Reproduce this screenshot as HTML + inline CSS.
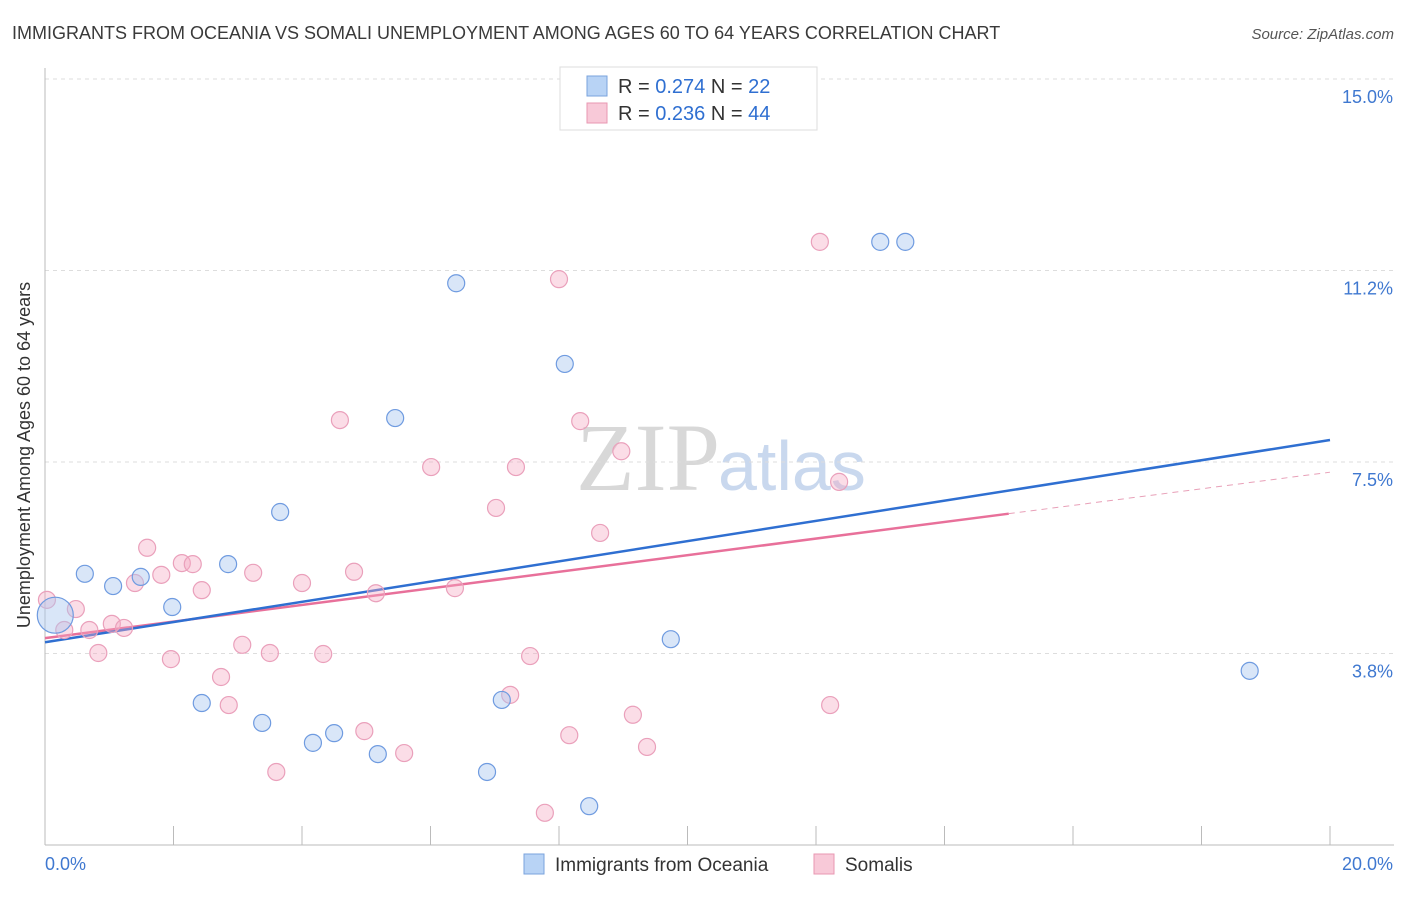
<!DOCTYPE html>
<html><head><meta charset="utf-8"><style>
body{margin:0;background:#fff;font-family:"Liberation Sans",sans-serif}
</style></head><body>
<svg id="c" width="1406" height="892" xmlns="http://www.w3.org/2000/svg" font-family="Liberation Sans, sans-serif">
<text x="12" y="39" font-size="18" fill="#3a3a3a">IMMIGRANTS FROM OCEANIA VS SOMALI UNEMPLOYMENT AMONG AGES 60 TO 64 YEARS CORRELATION CHART</text>
<text x="1394" y="39" font-size="15" fill="#555" text-anchor="end" font-style="italic">Source: ZipAtlas.com</text>
<text x="720" y="490" font-size="96" font-family="Liberation Serif, serif" fill="#d8d8d8" text-anchor="end">ZIP</text>
<text x="718" y="490" font-size="70" fill="#c9d8ee">atlas</text>
<g id="grid"></g><g id="axes"></g><g id="trend"></g><g id="pts"></g>
<text x="30" y="455" font-size="18" fill="#333" text-anchor="middle" transform="rotate(-90 30 455)">Unemployment Among Ages 60 to 64 years</text>
<g>
<rect x="560" y="67" width="257" height="63" fill="#fff" stroke="#ddd"/>
<rect x="587" y="76" width="20" height="20" fill="#b8d3f5" stroke="#7aa3dd"/>
<rect x="587" y="103" width="20" height="20" fill="#f8c9d8" stroke="#e897b2"/>
<text x="618" y="93" font-size="20" fill="#333">R = <tspan fill="#2f6fd1">0.274</tspan>   N = <tspan fill="#2f6fd1">22</tspan></text>
<text x="618" y="120" font-size="20" fill="#333">R = <tspan fill="#2f6fd1">0.236</tspan>   N = <tspan fill="#2f6fd1">44</tspan></text>
</g>
<g>
<rect x="524" y="854" width="20" height="20" fill="#b8d3f5" stroke="#7aa3dd"/>
<text x="555" y="871" font-size="19" fill="#333">Immigrants from Oceania</text>
<rect x="814" y="854" width="20" height="20" fill="#f8c9d8" stroke="#e897b2"/>
<text x="845" y="871" font-size="19" fill="#333">Somalis</text>
</g>
</svg>
<script>
const blueX=[0.16,0.62,1.06,1.49,1.98,2.44,2.85,3.38,3.66,4.17,4.50,5.18,5.45,6.40,6.88,7.11,8.09,8.47,9.74,13.00,13.39,18.75];
const blueY=[4.50,5.31,5.07,5.25,4.66,2.78,5.50,2.39,6.52,2.00,2.19,1.78,8.36,11.00,1.43,2.84,9.42,0.76,4.03,11.81,11.81,3.41];
const pinkX=[0.03,0.30,0.48,0.69,0.83,1.04,1.23,1.40,1.59,1.81,1.96,2.13,2.30,2.44,2.74,2.86,3.07,3.24,3.50,3.60,4.00,4.33,4.59,4.81,4.97,5.15,5.59,6.01,6.38,7.02,7.24,7.33,7.55,7.78,8.00,8.16,8.33,8.64,8.97,9.15,9.37,12.06,12.22,12.36];
const pinkY=[4.80,4.21,4.62,4.21,3.76,4.33,4.25,5.13,5.82,5.29,3.64,5.52,5.50,4.99,3.29,2.74,3.92,5.33,3.76,1.43,5.13,3.74,8.32,5.35,2.23,4.93,1.80,7.40,5.03,6.60,2.94,7.40,3.70,0.63,11.08,2.15,8.30,6.11,7.71,2.55,1.92,11.81,2.74,7.11];
const blueTrend=[3.97,7.93];
const pinkTrend=[4.05,7.30];
const yTicks=[3.75,7.5,11.25,15];
const yTickLabels=["3.8%","7.5%","11.2%","15.0%"];
const xTicks=[0,2,4,6,8,10,12,14,16,18,20];
const NS="http://www.w3.org/2000/svg";
const sx=v=>45+v*64.25, sy=v=>845-v*51.07;
function mk(tag,at,parent){const e=document.createElementNS(NS,tag);for(const k in at)e.setAttribute(k,at[k]);document.getElementById(parent).appendChild(e);return e;}
yTicks.forEach((t,i)=>{
 let l=mk('line',{x1:45,x2:1394,y1:sy(t),y2:sy(t),stroke:'#ddd','stroke-dasharray':'4 4'},'grid');
 
 
 let tx=mk('text',{x:1393,y:sy(t)+24,'font-size':18,fill:'#3f78d0','text-anchor':'end'},'grid');tx.textContent=yTickLabels[i];
 
 
});
let ax=mk('line',{x1:45,x2:45,y1:68,y2:845,stroke:'#bbb'},'axes');


let bx=mk('line',{x1:45,x2:1394,y1:845,y2:845,stroke:'#bbb'},'axes');


xTicks.forEach(t=>{let l=mk('line',{x1:sx(t),x2:sx(t),y1:826,y2:845,stroke:'#bbb'},'axes');
 
 });
let t0=mk('text',{x:45,y:870,'font-size':18,fill:'#3f78d0'},'axes');t0.textContent='0.0%';


let t1=mk('text',{x:1393,y:870,'font-size':18,fill:'#3f78d0','text-anchor':'end'},'axes');t1.textContent='20.0%';


const pv=x=>pinkTrend[0]+(pinkTrend[1]-pinkTrend[0])*x/20;
let pl=mk('line',{x1:sx(0),y1:sy(pinkTrend[0]),x2:sx(15),y2:sy(pv(15)),stroke:'#e8709a','stroke-width':2.5},'trend');


let pd=mk('line',{x1:sx(15),y1:sy(pv(15)),x2:sx(20),y2:sy(pinkTrend[1]),stroke:'#e8a0b8','stroke-width':1,'stroke-dasharray':'6 5'},'trend');


let bl=mk('line',{x1:sx(0),y1:sy(blueTrend[0]),x2:sx(20),y2:sy(blueTrend[1]),stroke:'#2f6fd1','stroke-width':2.5},'trend');


pinkX.forEach((x,i)=>{let c=mk('circle',{cx:sx(x),cy:sy(pinkY[i]),r:8.5,fill:'rgba(245,170,195,0.4)',stroke:'#eaa0bb','stroke-width':1.2},'pts');
 
 });
blueX.forEach((x,i)=>{let c=mk('circle',{cx:sx(x),cy:sy(blueY[i]),r:i===0?18:8.5,fill:'rgba(170,200,240,0.45)',stroke:'#6f9be0','stroke-width':1.2},'pts');
 
 });
</script>
</body></html>
